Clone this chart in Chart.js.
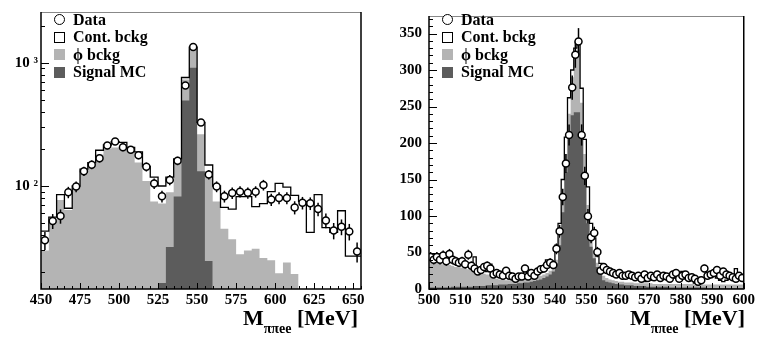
<!DOCTYPE html>
<html>
<head>
<meta charset="utf-8">
<script src="https://cdn.jsdelivr.net/npm/chart.js@4/dist/chart.umd.min.js"></script>
<style>
  body { margin: 0; background: #fff; width: 757px; height: 339px; overflow: hidden; position: relative;
         font-family: 'Liberation Serif', 'Times New Roman', serif; font-weight: bold; color: #000; }
  canvas { position: absolute; top: 0; }
  #leftChart { left: 0; }
  #rightChart { left: 378px; }
  .legend { position: absolute; top: 11px; font-size: 16px; }
  .legend div { height: 17.5px; display: flex; align-items: center; white-space: nowrap; }
  .sym { display: inline-block; width: 11px; height: 11px; margin-right: 8px; box-sizing: border-box; }
  .circ { border: 1.5px solid #000; border-radius: 50%; background: #fff; }
  .box { border: 1.5px solid #000; background: #fff; }
  .phi { background: #b4b4b4; }
  .sig { background: #5c5c5c; }
  .xt { position: absolute; top: 306px; font-size: 22px; line-height: 24px; white-space: nowrap; }
  .xt sub { font-size: 14px; vertical-align: -8px; line-height: 0; }
</style>
</head>
<body>
<canvas id="leftChart" width="378" height="339"></canvas>
<canvas id="rightChart" width="379" height="339"></canvas>

<div class="legend" style="left:54px">
  <div><span class="sym circ"></span>Data</div>
  <div><span class="sym box"></span>Cont. bckg</div>
  <div><span class="sym phi"></span>ϕ bckg</div>
  <div><span class="sym sig"></span>Signal MC</div>
</div>
<div class="legend" style="left:442px">
  <div><span class="sym circ"></span>Data</div>
  <div><span class="sym box"></span>Cont. bckg</div>
  <div><span class="sym phi"></span>ϕ bckg</div>
  <div><span class="sym sig"></span>Signal MC</div>
</div>
<div class="xt" style="right:399px">M<sub>ππee</sub> [MeV]</div>
<div class="xt" style="right:12px">M<sub>ππee</sub> [MeV]</div>

<script>
// ---- left panel: 5 MeV bins from 450 MeV, log scale ----
const leftStart = 450, leftWidth = 5;
const leftData = [36.3, 52, 57, 89, 99, 132, 149, 168, 213, 230, 206, 197, 178, 143, 105, 82.5, 112, 160, 653, 1340,
  328, 124, 99, 82.5, 87.7, 90, 88, 90, 102, 77.8, 80, 80, 67, 73, 72.3, 65, 52.6, 43.5, 46.7, 42.7, 29.4];
// top of the stacked MC (signal + phi + continuum)
const leftTotal = [43, 56, 85, 66, 100, 137, 155, 195, 215, 229, 226, 206, 189, 144, 118, 100, 118, 166, 759, 1340,
  328, 148, 100, 67, 65, 82, 82, 68, 72, 90, 105, 98, 84, 75, 42, 85, 46, 42, 63, 27, 27];
// top of signal + phi bckg
const leftPhi = [30, 52, 77, 64, 97, 125, 152, 180, 200, 205, 200, 190, 155, 110, 75, 72, 89, 158, 730, 1340,
  263, 132, 75, 45, 37, 28, 30, 31, 26, 25, 19.6, 24, 19.3];
const leftSignalStart = 525;
const leftSignal = [16.3, 32, 82, 494, 910, 132, 24.6];
const leftXTicks = [450, 475, 500, 525, 550, 575, 600, 625, 650];
const leftYTicks = [20, 30, 40, 50, 60, 70, 80, 90, 100, 200, 300, 400, 500, 600, 700, 800, 900, 1000, 2000];
const leftYLabels = { 100: '10 ²', 1000: '10 ³' };

// ---- right panel: 1 MeV bins from 500 MeV, linear scale ----
const rightStart = 500, rightWidth = 1;
const rightData = [
  44, 40, 44, 40, 46, 38, 48, 40, 38, 36,
  38, 34, 47, 32, 28, 24, 26, 30, 32, 28,
  20, 22, 20, 18, 25, 18, 17, 14, 17, 17,
  28, 17, 22, 18, 24, 27, 28, 33, 36, 33,
  55, 79, 126, 172, 211, 276, 321, 339, 211, 155,
  99.6, 71, 76.6, 50.6, 25, 30, 26, 24, 22, 20,
  22, 18, 18, 20, 18, 16, 18, 14, 20, 15,
  18, 16, 20, 15, 18, 17, 14, 20, 22, 14,
  18, 20, 15, 16, 14, 10, 12, 28, 18, 20,
  22, 26, 18, 24, 20, 18, 16, 14, 18, 15];
const rightTotal = [
  42, 38, 40, 48, 40, 38, 42, 40, 36, 35,
  38, 36, 32, 30, 44, 28, 26, 27, 24, 34,
  20, 18, 18, 17, 16, 15, 16, 13, 14, 15,
  30, 22, 18, 20, 22, 25, 30, 40, 34, 32,
  60, 90, 150, 208, 262, 300, 330, 342, 275, 205,
  140, 90, 70, 45, 35, 25, 22, 20, 22, 18,
  18, 17, 16, 15, 22, 14, 15, 16, 10, 14,
  12, 15, 16, 14, 15, 14, 13, 20, 15, 16,
  24, 14, 15, 16, 8, 14, 16, 15, 20, 22,
  18, 15, 12, 10, 12, 14, 15, 28, 20, 14];
const rightPhi = [
  38, 36, 36, 35, 34, 33, 33, 32, 30, 30,
  29, 28, 27, 26, 25, 24, 22, 21, 20, 19,
  15, 14, 13, 13, 12, 12, 12, 12, 12, 13,
  14, 14, 15, 16, 17, 18, 20, 22, 25, 28,
  40, 70, 125, 185, 240, 290, 320, 328, 255, 185,
  115, 72, 52, 36, 26, 18, 15, 13, 12, 11,
  10, 10, 9, 9, 9, 8, 8, 8, 8, 8,
  8, 7, 7, 7, 7, 7, 7, 7, 7, 7,
  7, 7, 7, 7, 6, 6, 6, 6, 6, 6,
  6, 6, 6, 6, 6, 6, 6, 6, 6, 6];
const rightSignal = [
  2, 2, 2, 2, 2, 2, 2, 3, 3, 3,
  3, 3, 3, 3, 4, 4, 4, 4, 5, 5,
  5, 5, 6, 6, 6, 7, 7, 7, 8, 8,
  9, 9, 10, 11, 12, 13, 15, 17, 20, 24,
  35, 60, 105, 160, 210, 238, 242, 242, 210, 150,
  90, 58, 42, 30, 20, 12, 10, 9, 8, 7,
  6, 6, 5, 5, 5, 4, 4, 4, 4, 3,
  3, 3, 3, 3, 3, 3, 2, 2, 2, 2,
  2, 2, 2, 2, 2, 2, 2, 2, 1, 1,
  1, 1, 1, 1, 1, 1, 1, 1, 1, 1];
const rightXTicks = [500, 510, 520, 530, 540, 550, 560, 570, 580, 590, 600];
const rightYTicks = [0, 50, 100, 150, 200, 250, 300, 350];

const FONT = { family: "'Liberation Serif', 'Times New Roman', serif", size: 15, weight: 'bold' };
const LIGHT = '#b4b4b4', DARK = '#5c5c5c';

// histogram as stepped line: one point per lower edge plus closing edge
function steps(start, width, values) {
  const pts = values.map((v, i) => ({ x: start + i * width, y: v }));
  pts.push({ x: start + values.length * width, y: values[values.length - 1] });
  return pts;
}
function centers(start, width, values) {
  return values.map((v, i) => ({ x: start + (i + 0.5) * width, y: v }));
}

// frame, inward ticks and data error bars
const rootStyle = {
  id: 'rootStyle',
  beforeDatasetDraw(chart, args) {
    const ds = chart.data.datasets[args.index];
    if (!ds.errorBars) return;
    const { ctx } = chart, x = chart.scales.x, y = chart.scales.y;
    ctx.save();
    ctx.strokeStyle = '#000';
    ctx.lineWidth = 1.5;
    ds.data.forEach(p => {
      const e = Math.sqrt(p.y);
      const px = x.getPixelForValue(p.x);
      ctx.beginPath();
      ctx.moveTo(px, y.getPixelForValue(p.y + e));
      ctx.lineTo(px, y.getPixelForValue(Math.max(p.y - e, y.min)));
      ctx.stroke();
    });
    ctx.restore();
  },
  afterDraw(chart, args, opts) {
    const { ctx, chartArea: a } = chart, x = chart.scales.x, y = chart.scales.y;
    ctx.save();
    ctx.strokeStyle = '#000';
    ctx.lineWidth = 1;
    ctx.beginPath();
    opts.xMinor.forEach(v => {
      const px = Math.round(x.getPixelForValue(v)) + 0.5;
      const len = opts.xMajor.includes(v) ? 6 : 3;
      ctx.moveTo(px, a.bottom); ctx.lineTo(px, a.bottom - len);
    });
    opts.yMinor.forEach(v => {
      const py = Math.round(y.getPixelForValue(v)) + 0.5;
      const len = opts.yMajor.includes(v) ? 8 : 4;
      ctx.moveTo(a.left, py); ctx.lineTo(a.left + len, py);
    });
    ctx.stroke();
    ctx.strokeStyle = '#888';
    ctx.beginPath();
    ctx.moveTo(a.left, a.top + 0.5); ctx.lineTo(a.right, a.top + 0.5);
    ctx.stroke();
    ctx.strokeStyle = '#000';
    ctx.lineWidth = 1.5;
    ctx.beginPath();
    ctx.moveTo(a.right, a.top); ctx.lineTo(a.right, a.bottom);
    ctx.lineTo(a.left, a.bottom); ctx.lineTo(a.left, a.top);
    ctx.stroke();
    ctx.restore();
  }
};

function range(from, to, step) {
  const out = [];
  for (let v = from; v <= to + 1e-9; v += step) out.push(Math.round(v * 100) / 100);
  return out;
}

function makeChart(id, cfg) {
  const datasets = [
    { label: 'Cont. bckg', data: steps(cfg.start, cfg.width, cfg.total), stepped: true, fill: 'start',
      backgroundColor: '#fff', borderColor: '#000', borderWidth: 1.3, pointRadius: 0, order: 3 },
    { label: 'phi bckg', data: steps(cfg.start, cfg.width, cfg.phi), stepped: true, fill: 'start',
      backgroundColor: LIGHT, borderColor: 'rgba(0,0,0,0)', borderWidth: 0, pointRadius: 0, order: 2 },
    { label: 'Signal MC', data: steps(cfg.sigStart, cfg.width, cfg.signal), stepped: true, fill: 'start',
      backgroundColor: DARK, borderColor: 'rgba(0,0,0,0)', borderWidth: 0, pointRadius: 0, order: 1 },
    { label: 'Data', data: centers(cfg.start, cfg.width, cfg.data), showLine: false, errorBars: true,
      pointRadius: 3.5, pointBackgroundColor: '#fff', pointBorderColor: '#000', pointBorderWidth: 1.5, order: 0 }
  ];
  return new Chart(document.getElementById(id), {
    type: 'line',
    data: { datasets },
    plugins: [rootStyle],
    options: {
      responsive: false,
      animation: false,
      events: [],
      layout: { padding: { top: 1, right: cfg.padRight, left: 0, bottom: 0 } },
      plugins: {
        legend: { display: false },
        tooltip: { enabled: false },
        filler: { drawTime: 'beforeDatasetsDraw' },
        rootStyle: cfg.tickMarks
      },
      scales: {
        x: {
          type: 'linear', min: cfg.xMin, max: cfg.xMax,
          afterBuildTicks: s => { s.ticks = cfg.xTicks.map(v => ({ value: v })); },
          afterFit: s => { s.height = 50; },
          grid: { display: false, drawTicks: false },
          border: { display: false },
          ticks: { font: FONT, color: '#000', padding: 2, maxRotation: 0, autoSkip: false }
        },
        y: {
          type: cfg.yType, min: cfg.yMin, max: cfg.yMax,
          afterBuildTicks: s => { s.ticks = cfg.yTicks.map(v => ({ value: v })); },
          afterFit: s => { s.width = cfg.yWidth; },
          grid: { display: false, drawTicks: false },
          border: { display: false },
          ticks: { font: FONT, color: '#000', padding: cfg.yPad, autoSkip: false, callback: cfg.yLabel }
        }
      }
    }
  });
}

makeChart('leftChart', {
  start: leftStart, width: leftWidth, sigStart: leftSignalStart,
  data: leftData, total: leftTotal, phi: leftPhi, signal: leftSignal,
  xMin: 450, xMax: 655, yType: 'logarithmic', yMin: 14.6, yMax: 2580,
  xTicks: leftXTicks, yTicks: leftYTicks, yWidth: 41, yPad: 3, padRight: 17,
  yLabel: v => leftYLabels[v] || '',
  tickMarks: { xMajor: leftXTicks, xMinor: range(450, 655, 5), yMajor: [100, 1000], yMinor: leftYTicks }
});

makeChart('rightChart', {
  start: rightStart, width: rightWidth, sigStart: rightStart,
  data: rightData, total: rightTotal, phi: rightPhi, signal: rightSignal,
  xMin: 500, xMax: 600, yType: 'linear', yMin: 0, yMax: 374,
  xTicks: rightXTicks, yTicks: rightYTicks, yWidth: 51, yPad: 7, padRight: 9,
  yLabel: v => String(v),
  tickMarks: { xMajor: rightXTicks, xMinor: range(500, 600, 2), yMajor: rightYTicks, yMinor: range(0, 370, 10) }
});
</script>
</body>
</html>
